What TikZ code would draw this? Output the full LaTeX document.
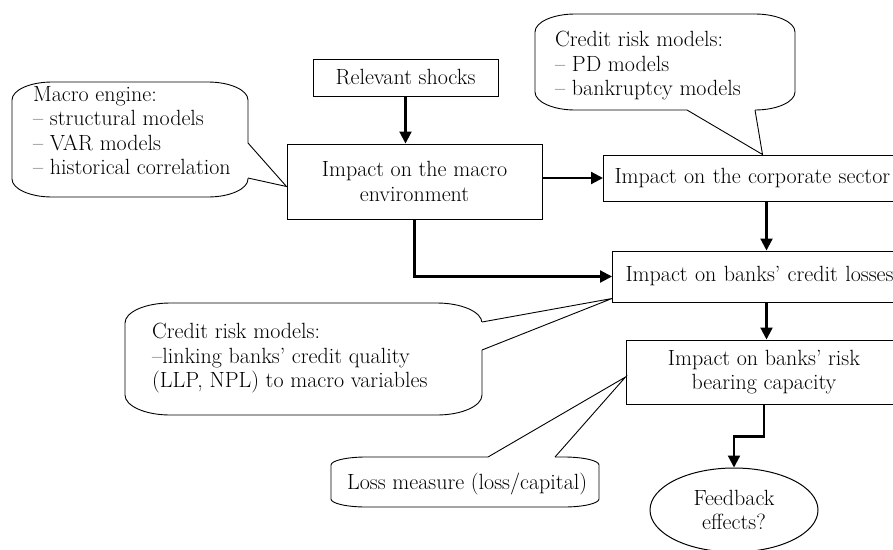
\documentclass[tikz,border=0pt]{standalone}
\usepackage{fontspec}
\usetikzlibrary{arrows.meta,shapes.geometric}
% puhekupla: vasen, yla, oikea, ala, kulman x- ja y-sade
\newcommand\kupla[6]{
\path[draw,fill=white,line width=0.9pt] (#1+#5,#2) -- (#3-#5,#2)
  .. controls (#3-0.45*#5,#2) and (#3,#2+0.45*#6) .. (#3,#2+#6) -- (#3,#4-#6)
  .. controls (#3,#4-0.45*#6) and (#3-0.45*#5,#4) .. (#3-#5,#4) -- (#1+#5,#4)
  .. controls (#1+0.45*#5,#4) and (#1,#4-0.45*#6) .. (#1,#4-#6) -- (#1,#2+#6)
  .. controls (#1,#2+0.45*#6) and (#1+0.45*#5,#2) .. cycle;
}
% kuplan nokka: kanta, karki, kanta
\newcommand\nokka[3]{
\path[fill=white] (#1) -- (#2) -- (#3) -- cycle;
\path[draw=white,line width=2pt] (#1) -- (#3);
\path[draw,line width=0.9pt] (#1) -- (#2) -- (#3);
}
\begin{document}
\begin{tikzpicture}[x=1pt,y=-1pt,
  laatikko/.style={draw,line width=1pt,align=center,inner sep=2pt},
  nuoli/.style={draw,line width=2.2pt,-{Triangle[length=12pt,width=12pt]}},
  teksti/.style={align=left,anchor=north west,inner sep=0pt}]
\fontsize{22}{24.5}\selectfont
\clip (0,0) rectangle (893,549);
\node[laatikko,minimum width=185pt,minimum height=37pt] (shocks) at (405.5,77.5) {Relevant shocks};
\node[laatikko,minimum width=255pt,minimum height=75pt] (macro) at (414.5,181.5) {Impact on the macro\\environment};
\node[laatikko,align=left,anchor=west,text width=304pt,inner xsep=11pt,minimum height=46pt] (corporate) at (603,178) {Impact on the corporate sector};
\node[laatikko,align=left,anchor=west,text width=282pt,inner xsep=13pt,minimum height=51pt] (losses) at (612,276.5) {Impact on banks' credit losses};
\node[laatikko,minimum width=276pt,minimum height=64pt] (risk) at (764,372) {Impact on banks' risk\\bearing capacity};
\node[draw,ellipse,line width=1pt,minimum width=168pt,minimum height=84pt,align=center,inner sep=0pt] (feedback) at (734,510) {Feedback\\effects?};
\path[nuoli] (shocks.south) -- (shocks.south |- macro.north);
\path[nuoli] (macro.east |- corporate.west) -- (corporate.west);
\path[nuoli] (corporate.south) -- (corporate.south |- losses.north);
\path[nuoli] (macro.south) |- (losses.west);
\path[nuoli] (losses.south) -- (losses.south |- risk.north);
\path[nuoli] (risk.south) -- ++(0,32) -| (feedback.north);
% kuplat
\kupla{12}{82}{248}{197}{40}{18}
\nokka{248,143}{[yshift=-5pt]macro.west}{248,178}
\node[teksti] (makromalli) at (33,86) {Macro engine:\\– structural models\\– VAR models\\– historical correlation};
\kupla{535}{14}{795}{110}{40}{18}
\nokka{687,110}{[xshift=-4pt]corporate.north}{755,110}
\node[teksti] (pdmalli) at (555,31) {Credit risk models:\\– PD models\\– bankruptcy models};
\kupla{125}{303}{482}{415}{45}{20}
\nokka{482,322}{[yshift=4pt]losses.south west}{482,350}
\node[teksti] (luottomalli) at (152,323) {Credit risk models:\\–linking banks' credit quality\\(LLP, NPL) to macro variables};
\kupla{331}{457}{599}{507}{35}{8}
\nokka{488,457}{[yshift=-5pt]risk.west}{555,457}
\node[teksti] (tappio) at (347,473) {Loss measure (loss/capital)};
\end{tikzpicture}
\end{document}
